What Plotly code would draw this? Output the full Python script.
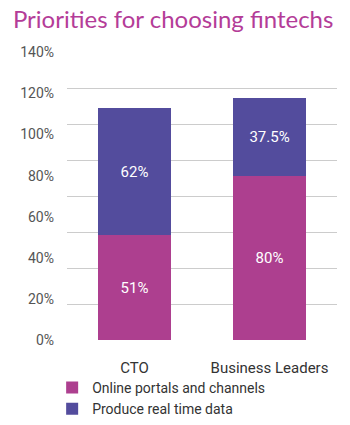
import plotly.graph_objects as go

categories = ["CTO", "Business Leaders"]
online_portals = [51, 80]
real_time_data = [62, 37.5]
online_labels = ["51%", "80%"]
realtime_labels = ["62%", "37.5%"]
series_names = ["Online portals and channels", "Produce real time data"]
tick_values = [0, 20, 40, 60, 80, 100, 120, 140]
tick_labels = ["0%", "20%", "40%", "60%", "80%", "100%", "120%", "140%"]
grid_values = [0, 17.5, 35, 52.5, 70, 87.5, 105, 122.5, 140]

PINK = "#AD3F8F"
PURPLE = "#534C9D"

H = 425
T = 52
plot_h = H - T
dom_bottom = (H - 346) / plot_h

fig = go.Figure()
fig.add_trace(go.Bar(
    x=categories, y=online_portals, name=series_names[0],
    marker=dict(color=PINK, line=dict(width=0)),
    text=online_labels, textposition="inside", insidetextanchor="middle",
    textfont=dict(color="white", size=15, family="Roboto"),
))
fig.add_trace(go.Bar(
    x=categories, y=real_time_data, name=series_names[1],
    marker=dict(color=PURPLE, line=dict(width=0)),
    text=realtime_labels, textposition="inside", insidetextanchor="middle",
    textfont=dict(color="white", size=15, family="Roboto"),
))
fig.add_trace(go.Scatter(
    x=[categories[0]], y=[0], yaxis="y2", mode="markers",
    marker=dict(opacity=0), showlegend=False, hoverinfo="skip",
))

fig.update_layout(
    width=350, height=H,
    margin=dict(l=67, r=13, t=T, b=0),
    paper_bgcolor="white", plot_bgcolor="white",
    barmode="stack", bargap=0.46,
    title=dict(
        text="Priorities for choosing fintechs",
        x=0.037, xanchor="left", y=0.953, yanchor="middle",
        font=dict(family="Lato", size=24, color="#B43C98"),
    ),
    xaxis=dict(
        showgrid=False, showline=False, ticks="",
        tickfont=dict(family="Roboto", size=15, color="#333333"),
        ticklabelstandoff=17,
    ),
    yaxis=dict(
        domain=[dom_bottom, 1],
        range=[0, 140], tickvals=grid_values, showticklabels=False,
        showgrid=True, gridcolor="#cccccc", gridwidth=1,
        zeroline=False, showline=False, ticks="",
    ),
    yaxis2=dict(
        domain=[dom_bottom, 1],
        range=[0, 140], overlaying="y", side="left",
        tickvals=tick_values, ticktext=tick_labels,
        showgrid=False, zeroline=False, showline=False, ticks="",
        tickfont=dict(family="Roboto", size=14, color="#555555"),
        ticklabelstandoff=12,
    ),
    legend=dict(
        orientation="v", x=-0.055, xanchor="left",
        y=(H - 378) / plot_h, yanchor="top",
        traceorder="normal", bgcolor="rgba(0,0,0,0)",
        font=dict(family="Roboto", size=14, color="#333333"),
        tracegroupgap=0,
    ),
    showlegend=True,
)

fig.write_html("out.html")
